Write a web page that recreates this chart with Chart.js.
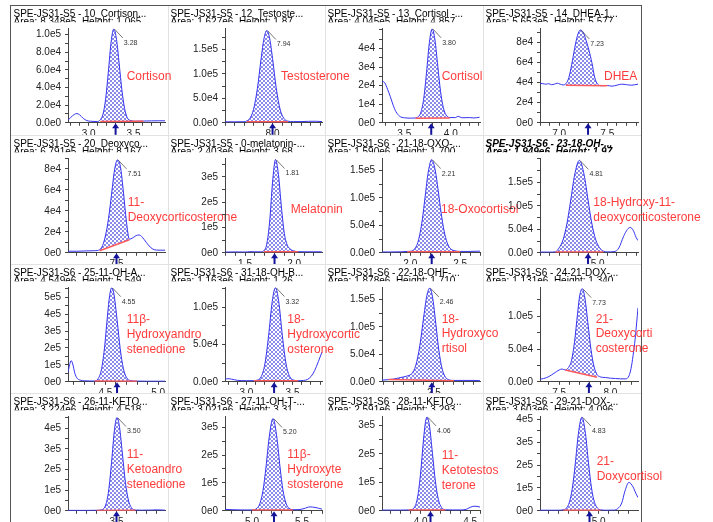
<!DOCTYPE html>
<html>
<head>
<meta charset="utf-8">
<script src="https://cdn.jsdelivr.net/npm/chart.js@4.4.0/dist/chart.umd.min.js"></script>
<style>
  body { margin: 0; background: #fff; }
  #wrap { position: relative; width: 713px; height: 522px; overflow: hidden; }
  #wrap canvas { position: absolute; }
  .sep { position: absolute; background: #e2e2e2; }
  .frame { position: absolute; background: #555; }
</style>
</head>
<body>
<div id="wrap"></div>
<script>
// retention time (min) / intensity
const cortisonX = [2.77, 2.80, 2.84, 2.87, 2.90, 2.94, 2.98, 3.02, 3.10, 3.13, 3.16, 3.19, 3.22, 3.25, 3.28, 3.31, 3.34, 3.37, 3.40, 3.43, 3.47, 3.52, 3.61, 3.70, 3.78, 3.85];
const cortisonY = [3000, 6000, 9500, 10500, 9000, 5000, 2500, 1800, 1500, 3500, 9850, 27900, 58700, 91800, 106500, 94700, 66700, 37200, 16400, 5700, 2500, 1800, 2000, 2200, 2300, 2300];
const testoX = [7.50, 7.60, 7.70, 7.73, 7.76, 7.80, 7.84, 7.88, 7.91, 7.94, 7.97, 8.00, 8.04, 8.08, 8.12, 8.16, 8.22, 8.30, 8.38, 8.45, 8.52];
const testoY = [2000, 2000, 2200, 4000, 8800, 27300, 69400, 131600, 172600, 189000, 172600, 131600, 69400, 27300, 8800, 3350, 2500, 2500, 3000, 3200, 2500];
const cortisolX = [3.26, 3.29, 3.32, 3.35, 3.38, 3.41, 3.45, 3.50, 3.58, 3.62, 3.65, 3.68, 3.71, 3.74, 3.77, 3.80, 3.83, 3.86, 3.89, 3.92, 3.95, 3.99, 4.05, 4.08, 4.12, 4.20, 4.25, 4.31];
const cortisolY = [22400, 21500, 18000, 14000, 9500, 6000, 3500, 2700, 2500, 2600, 3250, 5850, 13300, 27400, 43200, 50500, 44600, 30700, 17000, 8200, 4200, 2800, 2800, 3500, 2700, 2800, 2600, 3000];
const dheaX = [6.80, 6.83, 6.86, 6.89, 6.92, 6.95, 6.98, 7.01, 7.04, 7.07, 7.10, 7.13, 7.16, 7.19, 7.22, 7.25, 7.28, 7.31, 7.34, 7.37, 7.40, 7.44, 7.50, 7.55, 7.60, 7.65, 7.70, 7.75, 7.82];
const dheaY = [39500, 39000, 38500, 39000, 38000, 38500, 39500, 38500, 37800, 39000, 45000, 58000, 74000, 87000, 92500, 90000, 82000, 72000, 60000, 45000, 38500, 37000, 37200, 36500, 37500, 38500, 38000, 37500, 38500];
const docX = [7.01, 7.10, 7.20, 7.28, 7.33, 7.36, 7.39, 7.42, 7.45, 7.48, 7.51, 7.54, 7.57, 7.60, 7.63, 7.66, 7.70, 7.73, 7.76, 7.80, 7.84, 7.88, 7.93, 7.99];
const docY = [1500, 1500, 1800, 2000, 3000, 7000, 17000, 33000, 56000, 79000, 88700, 82000, 58000, 30000, 13000, 14000, 16500, 17000, 15000, 10000, 5500, 3000, 2500, 2500];
const melaX = [1.30, 1.40, 1.50, 1.55, 1.60, 1.66, 1.69, 1.72, 1.75, 1.78, 1.81, 1.84, 1.87, 1.90, 1.93, 1.96, 2.00, 2.04, 2.10, 2.20, 2.28];
const melaY = [3000, 3500, 3000, 4500, 4000, 4000, 8000, 33000, 122000, 279000, 368000, 308000, 181000, 76000, 30000, 15000, 7000, 4500, 4000, 4000, 4000];
const oxoFX = [1.716, 1.80, 1.90, 1.97, 2.00, 2.04, 2.08, 2.12, 2.15, 2.18, 2.215, 2.25, 2.28, 2.31, 2.34, 2.37, 2.40, 2.44, 2.50, 2.60, 2.70];
const oxoFY = [1500, 1500, 1800, 2500, 2700, 6500, 21400, 59700, 103800, 147000, 170000, 151000, 114000, 72500, 39500, 18600, 8200, 4000, 2500, 2500, 3000];
const ohDocX = [4.40, 4.50, 4.56, 4.60, 4.64, 4.68, 4.72, 4.76, 4.81, 4.86, 4.90, 4.94, 4.98, 5.02, 5.06, 5.10, 5.17, 5.22, 5.27, 5.31, 5.34, 5.37, 5.40, 5.42];
const ohDocY = [1500, 1500, 2000, 10700, 27800, 62000, 112500, 165500, 197000, 165500, 112500, 62000, 27800, 10700, 3500, 2000, 2500, 10000, 35000, 50000, 54000, 48000, 33000, 26000];
const ohAndroX = [4.145, 4.16, 4.175, 4.19, 4.21, 4.23, 4.26, 4.30, 4.35, 4.40, 4.43, 4.46, 4.49, 4.52, 4.54, 4.56, 4.58, 4.61, 4.64, 4.67, 4.70, 4.74, 4.80, 4.90, 5.00, 5.065];
const ohAndroY = [55000, 100000, 125000, 105000, 50000, 22000, 10000, 6000, 5000, 4500, 18000, 67000, 194000, 394000, 510000, 556000, 521000, 369000, 196000, 78600, 25600, 6600, 4000, 3500, 3500, 3500];
const ohBX = [2.767, 2.80, 2.84, 2.90, 3.00, 3.08, 3.12, 3.16, 3.20, 3.24, 3.28, 3.315, 3.35, 3.39, 3.43, 3.47, 3.51, 3.56, 3.62, 3.66, 3.70, 3.74, 3.78, 3.82];
const ohBY = [3500, 4200, 3500, 2000, 1500, 1500, 2400, 7000, 23900, 61700, 108100, 126500, 108100, 61700, 23900, 7000, 2400, 1500, 1800, 3000, 7000, 15000, 27000, 40000];
const ohFX = [1.983, 2.05, 2.10, 2.15, 2.20, 2.24, 2.28, 2.32, 2.36, 2.40, 2.43, 2.46, 2.49, 2.52, 2.55, 2.58, 2.61, 2.65, 2.70, 2.80, 2.90, 2.96];
const ohFY = [3000, 4000, 5000, 7000, 9000, 11000, 15000, 30000, 66000, 120000, 157000, 171000, 151000, 105000, 57500, 25500, 10000, 3500, 2500, 2500, 2500, 2000];
const doc21X = [7.314, 7.35, 7.40, 7.45, 7.50, 7.53, 7.56, 7.59, 7.62, 7.65, 7.68, 7.70, 7.725, 7.75, 7.78, 7.81, 7.84, 7.87, 7.90, 7.95, 8.00, 8.05, 8.10, 8.15, 8.18, 8.20, 8.22, 8.24, 8.255, 8.268];
const doc21Y = [4000, 5000, 8000, 13000, 18000, 19500, 18000, 21600, 32100, 61000, 104700, 131000, 142200, 129000, 90200, 49700, 23200, 11000, 7500, 6500, 5500, 5000, 4500, 4500, 9000, 20000, 40000, 65000, 90000, 113000];
const ketoAX = [3.01, 3.10, 3.20, 3.30, 3.36, 3.39, 3.42, 3.45, 3.48, 3.505, 3.53, 3.56, 3.59, 3.62, 3.65, 3.69, 3.75, 3.85, 3.90, 3.95, 3.99];
const ketoAY = [2000, 2000, 2000, 2500, 6700, 27400, 95600, 235000, 395000, 452000, 408000, 275000, 138000, 52400, 15900, 3600, 3000, 3500, 4500, 4000, 3000];
const ohTX = [4.73, 4.80, 4.90, 5.00, 5.05, 5.08, 5.11, 5.14, 5.17, 5.21, 5.25, 5.28, 5.31, 5.34, 5.37, 5.41, 5.46, 5.52, 5.58, 5.63, 5.70];
const ohTY = [5000, 4000, 3000, 3000, 9400, 27300, 73200, 157000, 259000, 331000, 259000, 157000, 73200, 27300, 9400, 4000, 4000, 8000, 14000, 12000, 6000];
const ketoTX = [3.61, 3.70, 3.80, 3.88, 3.91, 3.94, 3.97, 4.00, 4.03, 4.05, 4.065, 4.09, 4.12, 4.15, 4.18, 4.21, 4.25, 4.32, 4.40, 4.46, 4.50, 4.54, 4.58, 4.60];
const ketoTY = [2500, 2500, 2500, 3000, 4300, 13400, 48600, 132500, 252500, 313500, 329500, 297500, 200500, 101500, 39000, 12600, 3600, 3000, 3000, 5000, 12000, 16000, 15000, 13000];
const doxFX = [4.42, 4.50, 4.60, 4.65, 4.68, 4.71, 4.74, 4.77, 4.80, 4.835, 4.87, 4.90, 4.93, 4.96, 4.99, 5.02, 5.08, 5.15, 5.19, 5.23, 5.26, 5.30, 5.34, 5.37, 5.39];
const doxFY = [2500, 2500, 2500, 4200, 11300, 36200, 99000, 209500, 337500, 409500, 337500, 209500, 99000, 36200, 11300, 4200, 2500, 3000, 10000, 35000, 85000, 124000, 105000, 75000, 58000];

const traces = [
  [cortisonX, cortisonY], [testoX, testoY], [cortisolX, cortisolY], [dheaX, dheaY],
  [docX, docY], [melaX, melaY], [oxoFX, oxoFY], [ohDocX, ohDocY],
  [ohAndroX, ohAndroY], [ohBX, ohBY], [ohFX, ohFY], [doc21X, doc21Y],
  [ketoAX, ketoAY], [ohTX, ohTY], [ketoTX, ketoTY], [doxFX, doxFY]
];

const titles = [
  'SPE-JS31-S5 - 10_Cortison...', 'SPE-JS31-S5 - 12_Testoste...', 'SPE-JS31-S5 - 13_Cortisol -...', 'SPE-JS31-S5 - 14_DHEA-1...',
  'SPE-JS31-S5 - 20_Deoxyco...', 'SPE-JS31-S5 - 0-melatonin-...', 'SPE-JS31-S6 - 21-18-OXO-...', 'SPE-JS31-S6 - 23-18-OH-...',
  'SPE-JS31-S6 - 25-11-OH-A...', 'SPE-JS31-S6 - 31-18-OH-B...', 'SPE-JS31-S6 - 22-18-OHF-...', 'SPE-JS31-S6 - 24-21-DOX-...',
  'SPE-JS31-S6 - 26-11-KETO...', 'SPE-JS31-S6 - 27-11-OH-T-...', 'SPE-JS31-S6 - 28-11-KETO...', 'SPE-JS31-S6 - 29-21-DOX-...'
];
const areaLines = [
  'Area: 8.348e5, Height: 1.065', 'Area: 1.627e6, Height: 1.87', 'Area: 4.045e5, Height: 4.857', 'Area: 5.653e5, Height: 5.577',
  'Area: 6.791e5, Height: 8.167', 'Area: 2.403e6, Height: 3.68', 'Area: 1.590e6, Height: 1.700', 'Area: 1.949e6, Height: 1.97',
  'Area: 4.549e6, Height: 5.549', 'Area: 1.163e6, Height: 1.26', 'Area: 1.878e6, Height: 1.710', 'Area: 1.131e6, Height: 1.340',
  'Area: 3.224e6, Height: 4.518', 'Area: 3.021e6, Height: 3.31', 'Area: 2.591e6, Height: 3.293', 'Area: 3.603e6, Height: 4.096'
];
const compounds = [
  'Cortison', 'Testosterone', 'Cortisol', 'DHEA',
  '11-\nDeoxycorticosterone', 'Melatonin', '18-Oxocortisol', '18-Hydroxy-11-\ndeoxycorticosterone',
  '11β-\nHydroxyandro\nstenedione', '18-\nHydroxycortic\nosterone', '18-\nHydroxyco\nrtisol', '21-\nDeoxycorti\ncosterone',
  '11-\nKetoandro\nstenedione', '11β-\nHydroxyte\nstosterone', '11-\nKetotestos\nterone', '21-\nDoxycortisol'
];
const rtLabels = ['3.28', '7.94', '3.80', '7.23', '7.51', '1.81', '2.21', '4.81', '4.55', '3.32', '2.46', '7.73', '3.50', '5.20', '4.06', '4.83'];
const expectedRT = [3.30, 8.00, 3.79, 7.30, 7.50, 1.80, 2.215, 4.90, 4.61, 3.30, 2.48, 7.79, 3.50, 5.22, 4.10, 4.91];
// integration baseline: [start rt, start y, end rt, end y]
const baselines = [
  [3.13, 1500, 3.61, 1800], [7.73, 2200, 8.16, 2300], [3.62, 2500, 3.99, 2600], [7.07, 37500, 7.50, 37000],
  [7.33, 2000, 7.63, 12500], [1.69, 4000, 2.04, 4000], [1.97, 2000, 2.50, 2000], [4.56, 1500, 5.06, 1500],
  [4.40, 4000, 4.80, 3500], [3.08, 1500, 3.56, 1500], [2.05, 4000, 2.70, 2000], [7.56, 18000, 7.87, 7000],
  [3.30, 2000, 3.69, 2500], [5.00, 3000, 5.41, 3000], [3.88, 2500, 4.25, 2500], [4.65, 2500, 5.02, 2500]
];
const xRanges = [
  [2.77, 3.85], [7.50, 8.52], [3.26, 4.315], [6.80, 7.82],
  [7.01, 7.99], [1.296, 2.283], [1.716, 2.70], [4.40, 5.42],
  [4.145, 5.065], [2.767, 3.82], [1.983, 2.96], [7.314, 8.268],
  [3.01, 3.99], [4.73, 5.70], [3.61, 4.60], [4.42, 5.39]
];
const xLabels = [
  [3.0, 3.5], [8.0], [3.5, 4.0], [7.0, 7.5],
  [7.5], [1.5, 2.0], [2.0, 2.5], [5.0],
  [4.5, 5.0], [3.0, 3.5], [2.5], [7.5, 8.0],
  [3.5], [5.0, 5.5], [4.0, 4.5], [5.0]
];
const yMax = [1.07e5, 1.93e5, 5.07e4, 9.4e4, 9.0e4, 3.72e5, 1.72e5, 2.01e5, 5.57e5, 1.266e5, 1.72e5, 1.44e5, 4.57e5, 3.38e5, 3.31e5, 4.12e5];
const yStep = [2e4, 5e4, 1e4, 2e4, 2e4, 1e5, 5e4, 5e4, 1e5, 5e4, 5e4, 5e4, 1e5, 1e5, 1e5, 1e5];
const yDecimals = [1, 1, 0, 0, 0, 0, 1, 1, 0, 1, 1, 1, 0, 0, 0, 0];

// layout of the 4x4 grid
const colL = [11, 168, 325, 483], colW = [157, 157, 158, 158];
const rowT = [5, 135, 264, 393], rowH = [130, 129, 129, 129];
const labelPos = [
  [115.7, 71.7], [113, 72], [116.7, 71.7], [121, 71.7],
  [116.7, 67.7], [122.7, 75], [116, 75], [110.3, 67.7],
  [115.7, 56], [119.3, 56], [116.7, 55.3], [112.7, 55.3],
  [115.7, 62], [119.3, 62], [116.7, 62.7], [113.7, 68.7]
];
const OVER = 120;
const PLOT_BOTTOM = 117.8;
const FONT = '"Liberation Sans", Arial, sans-serif';

const wrap = document.getElementById('wrap');
function addDiv(cls, l, t, w, h) {
  const d = document.createElement('div');
  d.className = cls;
  d.style.cssText = `left:${l}px;top:${t}px;width:${w}px;height:${h}px`;
  wrap.appendChild(d);
}
[168, 325, 483].forEach(x => addDiv('sep', x, 5, 1, 517));
[135, 264, 393].forEach(y => addDiv('sep', 11, y, 630, 1));
addDiv('frame', 10, 5, 1, 517);
addDiv('frame', 641, 5, 1, 517);
addDiv('frame', 10, 5, 632, 1);

// crosshatch tile for the integrated area
const tile = document.createElement('canvas');
tile.width = 4; tile.height = 4;
(function () {
  const g = tile.getContext('2d');
  g.fillStyle = '#ffffff';
  g.fillRect(0, 0, 4, 4);
  g.fillStyle = '#8a8ae8';
  [[0, 0], [1, 1], [2, 2], [3, 3], [0, 3], [1, 2], [2, 1], [3, 0]].forEach(p => g.fillRect(p[0], p[1], 1, 1));
})();

function panelPlugin(i, cellW) {
  return {
    id: 'panel' + i,
    afterDraw(chart) {
      const ctx = chart.ctx, xs = chart.scales.x, ys = chart.scales.y, a = chart.chartArea;
      ctx.save();
      // header
      ctx.fillStyle = '#000';
      ctx.textAlign = 'left';
      ctx.textBaseline = 'alphabetic';
      ctx.font = (i === 7 ? 'italic bold ' : '') + '10px ' + FONT;
      ctx.fillText(titles[i], 2.5, 11.7);
      ctx.save();
      ctx.beginPath();
      ctx.rect(0, 0, cellW, 17.2);
      ctx.clip();
      ctx.fillText(areaLines[i], 2.5, 19.6);
      ctx.restore();

      // apex marker
      const [X, Y] = traces[i];
      let k = 0;
      Y.forEach((v, j) => { if (v > Y[k]) k = j; });
      const px = xs.getPixelForValue(X[k]), py = ys.getPixelForValue(Y[k]);
      ctx.strokeStyle = '#555';
      ctx.lineWidth = 0.8;
      ctx.beginPath();
      ctx.moveTo(px + 1, py + 0.5);
      ctx.lineTo(px + 9, py + 9);
      ctx.stroke();
      ctx.fillStyle = '#333';
      ctx.font = '7px ' + FONT;
      ctx.textBaseline = 'middle';
      ctx.fillText(rtLabels[i], px + 10, py + 14);

      // expected RT arrow
      const ax = xs.getPixelForValue(expectedRT[i]), b = a.bottom;
      ctx.fillStyle = '#14149a';
      ctx.beginPath();
      ctx.moveTo(ax, b + 0.5);
      ctx.lineTo(ax - 3.5, b + 5.5);
      ctx.lineTo(ax + 3.5, b + 5.5);
      ctx.closePath();
      ctx.fill();
      ctx.fillRect(ax - 1, b + 5, 2, 7);

      // compound name
      ctx.fillStyle = '#ff3c3c';
      ctx.font = '12px ' + FONT;
      ctx.textBaseline = 'middle';
      compounds[i].split('\n').forEach((t, n) => ctx.fillText(t, labelPos[i][0], labelPos[i][1] + n * 14.8));
      ctx.restore();
    }
  };
}

traces.forEach(([X, Y], i) => {
  const r = Math.floor(i / 4), c = i % 4;
  const cv = document.createElement('canvas');
  cv.width = colW[c] + OVER;
  cv.height = rowH[r];
  cv.style.left = colL[c] + 'px';
  cv.style.top = rowT[r] + 'px';
  wrap.appendChild(cv);

  const pts = X.map((x, j) => ({ x: x, y: Y[j] }));
  const bl = baselines[i];
  const peak = pts.filter(p => p.x >= bl[0] - 1e-9 && p.x <= bl[2] + 1e-9);
  const hatch = cv.getContext('2d').createPattern(tile, 'repeat');
  const [xMin, xMax] = xRanges[i];
  const step = yStep[i];
  const plotH = PLOT_BOTTOM - 23.5;

  new Chart(cv, {
    type: 'line',
    data: {
      datasets: [
        { data: pts, borderColor: '#3535f0', borderWidth: 1, pointRadius: 0, fill: false, order: 1, cubicInterpolationMode: 'monotone' },
        { data: peak, borderWidth: 0, borderColor: 'rgba(0,0,0,0)', pointRadius: 0, fill: 2, backgroundColor: hatch, order: 3, cubicInterpolationMode: 'monotone' },
        { data: [{ x: bl[0], y: bl[1] }, { x: bl[2], y: bl[3] }], borderColor: '#ff5a5a', borderWidth: 1.5, pointRadius: 0, fill: false, order: 0 }
      ]
    },
    options: {
      responsive: false,
      animation: false,
      devicePixelRatio: 1,
      events: [],
      layout: { padding: { left: 0, right: OVER + 3, top: 23.5, bottom: 0 } },
      plugins: { legend: { display: false }, tooltip: { enabled: false } },
      scales: {
        x: {
          type: 'linear', min: xMin, max: xMax,
          afterFit: s => { s.height = rowH[r] - PLOT_BOTTOM; },
          afterBuildTicks: s => {
            const t = [];
            for (let v = Math.ceil(xMin * 10 - 1e-6); v <= xMax * 10 + 1e-6; v++) t.push({ value: v / 10 });
            s.ticks = t;
          },
          ticks: {
            autoSkip: false, maxRotation: 0, padding: 2, color: '#222',
            font: { family: FONT, size: 10 },
            callback: v => xLabels[i].some(l => Math.abs(l - v) < 1e-6) ? v.toFixed(1) : ''
          },
          grid: { drawOnChartArea: false, tickLength: 3, color: '#444' },
          border: { color: '#444' }
        },
        y: {
          min: 0, max: yMax[i],
          afterFit: s => { s.width = 57; },
          afterBuildTicks: s => {
            const t = [];
            for (let k = 0; k * step / 2 <= yMax[i] + 1e-6; k++) t.push({ value: k * step / 2 });
            s.ticks = t;
          },
          ticks: {
            autoSkip: false, padding: 4, color: '#222',
            font: { family: FONT, size: 10 },
            callback: v => {
              const q = v / step;
              const nearTop = (yMax[i] - v) / yMax[i] * plotH < 2;
              return Math.abs(q - Math.round(q)) < 1e-6 && !nearTop ? v.toExponential(yDecimals[i]).replace('e+', 'e') : '';
            }
          },
          grid: { drawOnChartArea: false, tickLength: 3, color: '#444' },
          border: { color: '#444' }
        }
      }
    },
    plugins: [panelPlugin(i, colW[c])]
  });
});
</script>
</body>
</html>
